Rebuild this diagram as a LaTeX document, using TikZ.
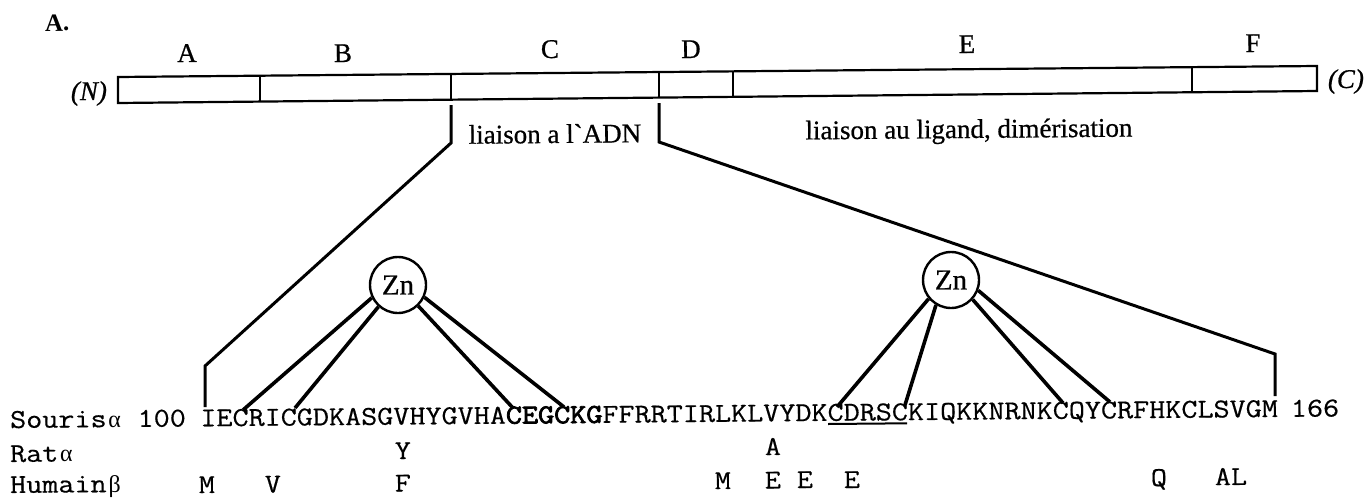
\documentclass[tikz,border=0pt]{standalone}
\usepackage{fontspec}
\setmainfont{Liberation Serif}
\newfontfamily\labf[FakeBold=0.7]{Liberation Serif}
\newfontfamily\labit[FakeBold=0.7]{Liberation Serif Italic}
\newfontfamily\seqf[FakeStretch=1.144,FakeBold=0.5]{Latin Modern Mono}
\newfontfamily\seqb[FakeStretch=1.144,FakeBold=3]{Latin Modern Mono}
\newcommand{\gk}[1]{\makebox[16pt]{\rmfamily\fontsize{24}{24}\selectfont #1}}
\tikzset{
  seqrow/.style={font=\seqf\fontsize{27.3}{27}\selectfont,inner sep=0pt,anchor=base west,rotate=0.5,text=black},
  subst/.style={font=\seqf\fontsize{27.3}{27}\selectfont,inner sep=0pt,anchor=base,rotate=0.5,text=black},
  lab/.style={font=\labf\fontsize{27}{27}\selectfont,inner sep=0pt,anchor=base,rotate=0.5,text=black},
  barline/.style={line width=2.2pt,black},
  divider/.style={line width=2.4pt,black},
  bracket/.style={line width=3pt,black,line join=miter},
  zinc/.style={circle,draw,line width=2.4pt,minimum size=56pt,inner sep=0pt,font=\labf\fontsize{29}{29}\selectfont},
  zline/.style={line width=3.6pt,black},
  underl/.style={line width=2pt,black}
}
\begin{document}
\begin{tikzpicture}[x=1pt,y=-1pt]
\useasboundingbox (0,0) rectangle (1365,498);
% domain bar
\coordinate (tl) at (118,77); \coordinate (tr) at (1317,66);
\coordinate (br) at (1317,91); \coordinate (bl) at (118,103);
\draw[barline] (tl) -- (tr) -- (br) -- (bl) -- cycle;
\coordinate (d1t) at (260,75.7);  \coordinate (d1b) at (260,101.6);
\coordinate (d2t) at (451,73.9);  \coordinate (d2b) at (451,99.7);
\coordinate (d3t) at (659,72);    \coordinate (d3b) at (659,97.6);
\coordinate (d4t) at (733,71.4);  \coordinate (d4b) at (733,96.9);
\coordinate (d5t) at (1192,67.2); \coordinate (d5b) at (1192,92.3);
\foreach \k in {1,...,5} \draw[divider] (d\k t) -- (d\k b);
% labels
\node[lab,font=\rmfamily\bfseries\fontsize{25}{25}\selectfont,anchor=base west] (panel) at (45,31) {A.};
\node[lab] (la) at (187,62) {A};
\node[lab] (lb) at (343,62) {B};
\node[lab] (lc) at (550,58) {C};
\node[lab] (ld) at (691,58) {D};
\node[lab] (le) at (967,53) {E};
\node[lab] (lf) at (1253,52) {F};
\node[lab,font=\labit\fontsize{27}{27}\selectfont] (nterm) at (89,100) {(N)};
\node[lab,font=\labit\fontsize{27}{27}\selectfont] (cterm) at (1346,88) {(C)};
\node[lab] (adn) at (555,143) {liaison a l`ADN};
\node[lab] (lig) at (969,138) {liaison au ligand, dimérisation};
% zoom brackets
\coordinate (b1a) at (451,105); \coordinate (b1b) at (451,143);
\coordinate (b1c) at (205,366); \coordinate (b1d) at (205,407);
\coordinate (b2a) at (659,103); \coordinate (b2b) at (659,142);
\coordinate (b2c) at (1275,354); \coordinate (b2d) at (1275,396);
\draw[bracket] (b1a) -- (b1b) -- (b1c) -- (b1d);
\draw[bracket] (b2a) -- (b2b) -- (b2c) -- (b2d);
% zinc fingers
\node[zinc] (zn1) at (398,285) {Zn};
\node[zinc] (zn2) at (951,280) {Zn};
\coordinate (c1) at (243,410); \coordinate (c2) at (295,408);
\coordinate (c3) at (513,408); \coordinate (c4) at (564,407);
\coordinate (c5) at (837,407); \coordinate (c6) at (905,405);
\coordinate (c7) at (1063,403); \coordinate (c8) at (1110,402);
\draw[zline] (zn1.206) -- (c1);
\draw[zline] (zn1.228) -- (c2);
\draw[zline] (zn1.314) -- (c3);
\draw[zline] (zn1.335) -- (c4);
\draw[zline] (zn2.220) -- (c5);
\draw[zline] (zn2.239) -- (c6);
\draw[zline] (zn2.318) -- (c7);
\draw[zline] (zn2.339) -- (c8);
% sequence rows
\node[seqrow] (souris) at (10,428) {Souris\gk{α}\makebox[15pt]{}100\makebox[14.5pt]{}IECRICGDKASGVHYGVHA{\seqb CEGCKG}FFRRTIRLKLVYDKCDRSCKIQKKNRNKCQYCRFHKCLSVGM\makebox[13pt]{}166};
\coordinate (ua) at (828,424); \coordinate (ub) at (907,423.3);
\draw[underl] (ua) -- (ub);
\node[seqrow] (rat) at (10,462) {Rat\gk{α}};
\node[seqrow] (humain) at (10,493) {Humain\gk{β}};
\node[subst] (r1) at (403,459) {Y};
\node[subst] (r2) at (773,455) {A};
\node[subst] (h1) at (207,493) {M};
\node[subst] (h2) at (273,492.5) {V};
\node[subst] (h3) at (403,491.5) {F};
\node[subst] (h4) at (723,489) {M};
\node[subst] (h5) at (773,488.5) {E};
\node[subst] (h6) at (805,488) {E};
\node[subst] (h7) at (852,488) {E};
\node[subst] (h8) at (1159,486) {Q};
\node[subst] (h9) at (1231,485) {AL};
\end{tikzpicture}
\end{document}
